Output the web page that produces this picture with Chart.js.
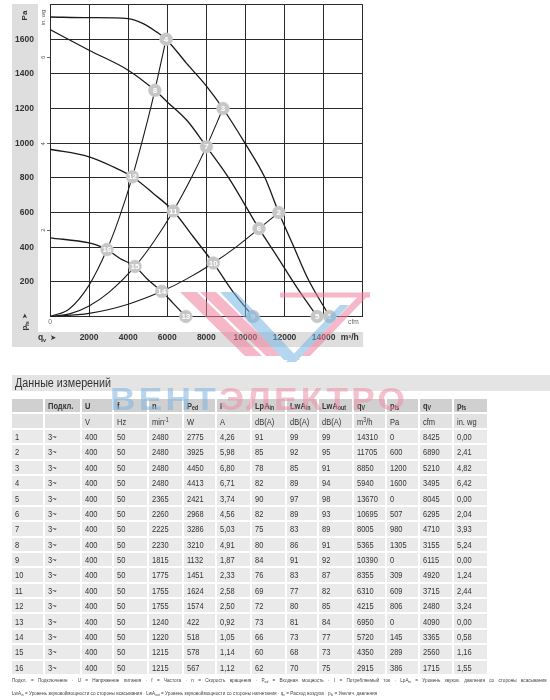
<!DOCTYPE html>
<html><head><meta charset="utf-8">
<script src="https://cdn.jsdelivr.net/npm/chart.js@4.4.1/dist/chart.umd.min.js"></script>
<style>
html,body{margin:0;padding:0;background:#fff;width:550px;height:700px;overflow:hidden;font-family:"Liberation Sans",Arial,sans-serif;}
#chartBox{position:absolute;left:0;top:0;width:366px;height:350px;}
#title{position:absolute;left:12px;top:375px;width:538px;height:16px;background:#e4e4e4;color:#333;box-sizing:border-box;overflow:hidden;}
#title span{position:absolute;left:3px;top:0;font-size:12.5px;line-height:16px;white-space:nowrap;transform-origin:0 50%;transform:scaleX(0.86);}
#tbl{position:absolute;left:10px;top:396.5px;border-collapse:separate;border-spacing:2px;table-layout:fixed;font-family:"Liberation Sans",Arial,sans-serif;font-size:9.4px;color:#333;will-change:transform;}
#tbl td{height:13.4px;padding:0 0 0 3px;background:#eaeaea;white-space:nowrap;overflow:hidden;box-sizing:border-box;line-height:13px;}
#tbl td span{display:inline-block;transform-origin:0 50%;transform:scaleX(0.8);}
#tbl tr.h1 td{background:#d0d0d0;font-weight:bold;}
#tbl tr.h2 td{background:#e2e2e2;}
#tbl sub{font-size:70%;vertical-align:-1px;line-height:0;}
#tbl sup{font-size:70%;vertical-align:3px;line-height:0;}
.note{position:absolute;left:12px;font-size:5.7px;line-height:8px;color:#444;white-space:nowrap;transform-origin:0 50%;transform:scaleX(0.82);}
#note1{top:675.5px;width:652px;text-align:justify;text-align-last:justify;}
#note2{top:689px;}
.note sub{font-size:70%;vertical-align:-1px;line-height:0;}
#wm{position:absolute;left:110px;top:382.7px;font-family:"Liberation Sans",Arial,sans-serif;font-weight:bold;font-size:32px;line-height:32px;letter-spacing:3px;white-space:nowrap;opacity:0.55;pointer-events:none;transform-origin:0 0;transform:scaleX(1.1);}
#wm .b{color:#7fb2e0;} #wm .p{color:#ee8ea6;}
#logo{position:absolute;left:0;top:0;opacity:0.55;pointer-events:none;}
</style></head>
<body>
<div id="chartBox"><canvas id="c" width="366" height="350"></canvas></div>
<svg id="logo" width="380" height="370" viewBox="0 0 380 370">
  <polygon points="180,292 197,292 262,356 245,356" fill="#ee7f9c"/>
  <polygon points="200,292 216,292 282,356 266,356" fill="#ee7f9c"/>
  <polygon points="220,292 236,292 300,360 284,360" fill="#79b4e2"/>
  <polygon points="280,292.5 370,292.5 370,297.5 280,297.5" fill="#ee7f9c"/>
  <polygon points="362,292.5 371,292.5 310,356 300,356" fill="#ee7f9c"/>
  <polygon points="340,305 349,305 296,362 286,362" fill="#79b4e2"/>
</svg>
<div id="title"><span>Данные измерений</span></div>
<table id="tbl"></table>
<div id="wm"><span class="b">ВЕНТ</span><span class="p">ЭЛЕКТРО</span></div>
<div class="note" id="note1">Подкл. = Подключение · U = Напряжение питания · f = Частота · n = Скорость вращения · P<sub>ed</sub> = Входная мощность · I = Потребляемый ток · LpA<sub>in</sub> = Уровень звуков. давления со стороны всасывания</div>
<div class="note" id="note2">LwA<sub>in</sub> = Уровень звуковоймощности со стороны всасывания · LwA<sub>out</sub> = Уровень звуковоймощности со стороны нагнетания · q<sub>v</sub> = Расход воздуха · p<sub>fs</sub> = Увелич. давления</div>
<script>
// ---------- measured operating points (table) ----------
const pointNo  = [1,2,3,4,5,6,7,8,9,10,11,12,13,14,15,16];
const conn     = ['3~','3~','3~','3~','3~','3~','3~','3~','3~','3~','3~','3~','3~','3~','3~','3~'];
const voltage  = [400,400,400,400,400,400,400,400,400,400,400,400,400,400,400,400];
const freq     = [50,50,50,50,50,50,50,50,50,50,50,50,50,50,50,50];
const speed    = [2480,2480,2480,2480,2365,2260,2225,2230,1815,1775,1755,1755,1240,1220,1215,1215];
const power    = [2775,3925,4450,4413,2421,2968,3286,3210,1132,1451,1624,1574,422,518,578,567];
const current  = ['4,26','5,98','6,80','6,71','3,74','4,56','5,03','4,91','1,87','2,33','2,58','2,50','0,92','1,05','1,14','1,12'];
const lpaIn    = [91,85,78,82,90,82,75,80,84,76,69,72,73,66,60,62];
const lwaIn    = [99,92,85,89,97,89,83,86,91,83,77,80,81,73,68,70];
const lwaOut   = [99,95,91,94,98,93,89,91,92,87,82,85,84,77,73,75];
const qvM3h    = [14310,11705,8850,5940,13670,10695,8005,5365,10390,8355,6310,4215,6950,5720,4350,2915];
const pfsPa    = [0,600,1200,1600,0,507,980,1305,0,309,609,806,0,145,289,386];
const qvCfm    = [8425,6890,5210,3495,8045,6295,4710,3155,6115,4920,3715,2480,4090,3365,2560,1715];
const pfsInwg  = ['0,00','2,41','4,82','6,42','0,00','2,04','3,93','5,24','0,00','1,24','2,44','3,24','0,00','0,58','1,16','1,55'];

// ---------- fan curves (m³/h, Pa) ----------
const curve1Q = [0,2000,4000,4770,5450,5940,7000,8015,8850,9975,11000,11705,12445,13210,14310];
const curve1P = [1728,1724,1719,1690,1642,1600,1459,1328,1200,1000,800,600,410,215,0];
const curve2Q = [0,2000,4000,5365,6000,7000,8005,9120,10695,11600,12620,13670];
const curve2P = [1655,1536,1421,1305,1238,1132,980,804,507,350,170,0];
const curve3Q = [0,2000,3240,4215,5285,6310,7330,8355,9376,10390];
const curve3P = [965,921,863,806,710,609,460,309,140,0];
const curve4Q = [0,2000,2400,2915,3580,4350,5030,5720,6306,6950];
const curve4P = [454,425,412,386,335,289,210,145,76,0];
// system (resistance) curves
const sysAQ = [0,1000,2000,2915,3500,4215,5000,5365,5940];
const sysAP = [0,45,181,386,556,806,1134,1305,1600];
const sysBQ = [0,1000,2000,3000,4350,5300,6310,7200,8005,8850];
const sysBP = [0,15,61,138,289,430,609,793,980,1200];
const sysCQ = [0,2000,4000,5720,7000,8355,9500,10695,11705];
const sysCP = [0,18,71,145,217,309,399,507,600];

// ---------- axis ticks ----------
const m3hTicks  = [2000,4000,6000,8000,10000,12000,14000];
const cfmTicks  = [0,1000,2000,3000,4000,5000,6000,7000,8000];
const paTicks   = [200,400,600,800,1000,1200,1400,1600];
const inwgTicks = [2,4,6];
const CFM_PER_M3H = 1/1.69901;
const PA_PER_INWG = 249.089;

const FONT = '"Liberation Sans", Arial, sans-serif';

// ---------- table ----------
(function(){
  const t = document.getElementById('tbl');
  const widths = [31,33,30,33,33,31,33,33,30,33,31,31,32,33];
  const cell = v => '<td><span>' + v + '</span></td>';
  let html = '<colgroup>' + widths.map(w=>'<col style="width:'+w+'px">').join('') + '</colgroup>';
  const head1 = ['', 'Подкл.', 'U', 'f', 'n', 'P<sub>ed</sub>', 'I', 'LpA<sub>in</sub>', 'LwA<sub>in</sub>', 'LwA<sub>out</sub>', 'q<sub>V</sub>', 'p<sub>fs</sub>', 'q<sub>V</sub>', 'p<sub>fs</sub>'];
  const head2 = ['', '', 'V', 'Hz', 'min<sup>-1</sup>', 'W', 'A', 'dB(A)', 'dB(A)', 'dB(A)', 'm<sup>3</sup>/h', 'Pa', 'cfm', 'in. wg'];
  html += '<tr class="h1">' + head1.map(cell).join('') + '</tr>';
  html += '<tr class="h2">' + head2.map(cell).join('') + '</tr>';
  for (let i=0;i<pointNo.length;i++){
    const row=[pointNo[i],conn[i],voltage[i],freq[i],speed[i],power[i],current[i],lpaIn[i],lwaIn[i],lwaOut[i],qvM3h[i],pfsPa[i],qvCfm[i],pfsInwg[i]];
    html += '<tr>' + row.map(cell).join('') + '</tr>';
  }
  t.innerHTML = html;
})();

// ---------- chart ----------
const toXY = (q,p) => q.map((v,i)=>({x:v,y:p[i]}));
const lineDs = (q,p,w) => ({data:toXY(q,p), borderColor:'#1a1a1a', borderWidth:w, pointRadius:0, cubicInterpolationMode:'monotone', fill:false, order:2});

const markers = {
  data: toXY(qvM3h,pfsPa), showLine:false, pointRadius:6.5, pointHoverRadius:6.5,
  pointBackgroundColor:'#c6c6c6', pointBorderColor:'#d2d2d2', pointBorderWidth:0.5, clip:false, order:0
};

const noPad = s => { s.paddingLeft = 0; s.paddingRight = 0; s.paddingTop = 0; s.paddingBottom = 0; };

const panelPlugin = {
  id:'panels',
  beforeDraw(chart){
    const {ctx, chartArea:a, scales} = chart;
    const y = scales.y, x = scales.x;
    ctx.save();
    ctx.fillStyle = '#dedede';
    ctx.fillRect(y.left, a.top - 0.5, y.width, x.bottom - a.top + 0.5);
    ctx.fillRect(y.left, x.top, a.right - y.left + 0.5, x.height);
    ctx.restore();
  }
};

const textPlugin = {
  id:'texts',
  afterDraw(chart){
    const {ctx, chartArea:a, scales} = chart;
    const y = scales.y, y2 = scales.y2, x = scales.x, x2 = scales.x2;
    ctx.save();
    ctx.font = '6px ' + FONT;
    ctx.fillStyle = '#555';
    ctx.textAlign = 'center'; ctx.textBaseline = 'middle';
    inwgTicks.forEach(v=>{
      const py = y2.getPixelForValue(v);
      ctx.save(); ctx.translate(y2.left + 5.5, py); ctx.rotate(-Math.PI/2); ctx.fillText(String(v),0,0); ctx.restore();
    });
    ctx.save(); ctx.translate(y2.left + 5.5, a.top + 13); ctx.rotate(-Math.PI/2); ctx.fillText('in. wg',0,0); ctx.restore();
    ctx.fillStyle = '#333';
    ctx.font = 'bold 8px ' + FONT;
    const cx = y.left + 13;
    ctx.save(); ctx.translate(cx, a.top + 11); ctx.rotate(-Math.PI/2); ctx.fillText('Pa',0,0); ctx.restore();
    ctx.save(); ctx.translate(cx, a.bottom + 3); ctx.rotate(-Math.PI/2);
    ctx.textAlign = 'left';
    ctx.font = 'bold 8px ' + FONT; ctx.fillText('p', -11, 0);
    ctx.font = 'bold 5.5px ' + FONT; ctx.fillText('fs', -6.5, 2);
    ctx.font = 'bold 7px "DejaVu Sans"'; ctx.fillText('\u27A4', 0.5, 0);
    ctx.restore();
    const by = x.top + 6;
    ctx.textAlign = 'left';
    ctx.font = 'bold 8.5px ' + FONT; ctx.fillText('q', y.right, by);
    ctx.font = 'bold 5.5px ' + FONT; ctx.fillText('v', y.right + 5, by + 2);
    ctx.font = 'bold 7.5px "DejaVu Sans"'; ctx.fillText('\u27A4', y.right + 12, by);
    ctx.textAlign = 'right';
    ctx.font = 'bold 8.5px ' + FONT; ctx.fillText('m\u00B3/h', a.right - 4, by);
    ctx.font = '6.6px ' + FONT; ctx.fillStyle = '#666';
    ctx.fillText('cfm', a.right - 4, x2.top + 6);
    const meta = chart.getDatasetMeta(0);
    ctx.textAlign = 'center'; ctx.textBaseline = 'middle';
    ctx.fillStyle = '#ffffff';
    ctx.font = 'bold 8px ' + FONT;
    meta.data.forEach((pt,i)=>{ ctx.fillText(String(pointNo[i]), pt.x, pt.y + 0.5); });
    ctx.restore();
  }
};

new Chart(document.getElementById('c'), {
  type:'line',
  data:{ datasets:[
    markers,
    lineDs(curve1Q,curve1P,1.3), lineDs(curve2Q,curve2P,1.3), lineDs(curve3Q,curve3P,1.3), lineDs(curve4Q,curve4P,1.3),
    lineDs(sysAQ,sysAP,1.1), lineDs(sysBQ,sysBP,1.1), lineDs(sysCQ,sysCP,1.1)
  ]},
  options:{
    responsive:false, animation:false, devicePixelRatio:1,
    layout:{autoPadding:false, padding:{left:12, right:3.3, top:4.5, bottom:3}},
    plugins:{legend:{display:false}, tooltip:{enabled:false}},
    events:[],
    scales:{
      x:{ type:'linear', position:'bottom', weight:2, min:0, max:16000,
        ticks:{stepSize:2000, autoSkip:false, maxRotation:0, minRotation:0, padding:0.5,
          font:{family:FONT, size:8.5, weight:'bold'}, color:'#333',
          callback:(v)=> m3hTicks.includes(v) ? String(v) : ''},
        grid:{color:'#2a2a2a', lineWidth:1, drawTicks:false},
        border:{display:false},
        afterFit(s){ s.height = 15; noPad(s); } },
      x2:{ type:'linear', position:'bottom', weight:1, min:0, max:16000*CFM_PER_M3H,
        ticks:{stepSize:1000, autoSkip:false, maxRotation:0, minRotation:0, padding:2,
          font:{family:FONT, size:6.6}, color:'#666',
          callback:(v)=> cfmTicks.includes(v) ? String(v) : ''},
        grid:{display:false, drawTicks:false},
        border:{display:false},
        afterFit(s){ s.height = 15.5; noPad(s); } },
      y:{ type:'linear', position:'left', weight:2, min:0, max:1800,
        ticks:{stepSize:200, autoSkip:false, padding:4,
          font:{family:FONT, size:8.5, weight:'bold'}, color:'#333',
          callback:(v)=> paTicks.includes(v) ? String(v) : ''},
        grid:{color:'#2a2a2a', lineWidth:1, drawTicks:false},
        border:{display:false},
        afterFit(s){ s.width = 26; noPad(s); } },
      y2:{ type:'linear', position:'left', weight:1, min:0, max:1800/PA_PER_INWG,
        ticks:{display:false, stepSize:1, autoSkip:false},
        grid:{drawOnChartArea:false, drawTicks:true, tickLength:3, lineWidth:1,
          color:(ctx)=> (ctx.tick && inwgTicks.includes(ctx.tick.value)) ? '#666' : 'rgba(0,0,0,0)'},
        border:{display:false},
        afterFit(s){ s.width = 12; noPad(s); } }
    }
  },
  plugins:[panelPlugin, textPlugin]
});
</script>
</body></html>
